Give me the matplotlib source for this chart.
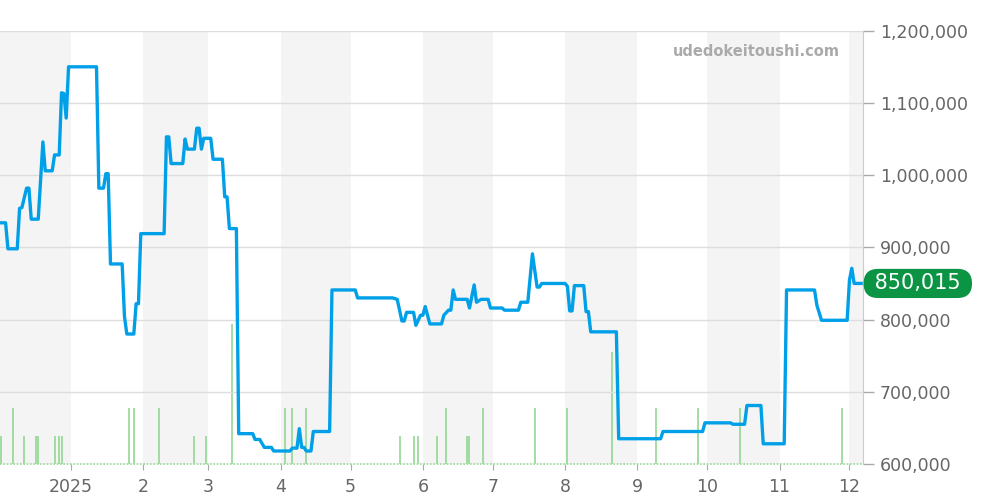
import numpy as np
import pandas as pd
import matplotlib
matplotlib.use('Agg')
import matplotlib.pyplot as plt
import matplotlib.dates as mdates
from matplotlib.transforms import blended_transform_factory

base = pd.Timestamp('2025-01-01')

# price path: days counted from 2025-01-01, price in yen
price_day = [-30, -28, -27, -23, -22, -21, -19, -18, -17, -14,
             -12, -11, -8, -7, -5, -4, -3, -2, -1, 11,
             12, 14, 15, 16, 17, 22, 23, 24, 27, 28,
             29, 30, 40, 41, 42, 43, 48, 49, 50, 53,
             54, 55, 56, 57, 60, 61, 65, 66, 67, 68,
             71, 72, 78, 79, 81, 83, 86, 87, 94, 95,
             97, 98, 99, 100, 101, 103, 104, 111, 112, 122,
             123, 138, 140, 142, 143, 144, 147, 148, 150, 151,
             152, 154, 159, 160, 162, 163, 164, 165, 170, 171,
             173, 174, 176, 179, 180, 185, 186, 192, 193, 196,
             198, 200, 201, 202, 212, 213, 214, 215, 216, 220,
             221, 222, 223, 234, 235, 253, 254, 271, 272, 283,
             284, 289, 290, 296, 297, 306, 307, 319, 320, 322,
             333, 334, 335, 336, 339]
price_val = [934000, 934000, 898000, 898000, 954000, 955000, 982000, 982000, 939000, 939000,
             1046000, 1006000, 1006000, 1028000, 1028000, 1114000, 1113000, 1079000, 1150000, 1150000,
             982000, 982000, 1002000, 1002000, 877000, 877000, 804000, 780000, 780000, 822000,
             822000, 919000, 919000, 1053000, 1053000, 1016000, 1016000, 1050000, 1036000, 1036000,
             1065000, 1065000, 1036000, 1051000, 1051000, 1022000, 1022000, 970000, 970000, 926000,
             926000, 642000, 642000, 634000, 634000, 623000, 623000, 618000, 618000, 622000,
             622000, 649000, 623000, 623000, 618000, 618000, 645000, 645000, 841000, 841000,
             830000, 830000, 828000, 798000, 798000, 810000, 810000, 792000, 806000, 806000,
             818000, 794000, 794000, 806000, 813000, 813000, 841000, 828000, 828000, 816000,
             848000, 824000, 828000, 828000, 816000, 816000, 813000, 813000, 824000, 824000,
             891000, 845000, 845000, 850000, 850000, 846000, 812000, 812000, 847000, 847000,
             811000, 811000, 783000, 783000, 635000, 635000, 645000, 645000, 657000, 657000,
             655000, 655000, 681000, 681000, 628000, 628000, 841000, 841000, 820000, 799000,
             799000, 855000, 871000, 850015, 850015]

# trade counts (green spikes)
vol_day = [-30, -25, -20, -15, -14, -7, -5, -4, 25, 27, 38, 53, 58, 69,
           92, 95, 101, 141, 147, 149, 157, 161, 170, 171, 177,
           199, 213, 232, 251, 269, 287, 331]
vol_cnt = [1, 2, 1, 1, 1, 1, 1, 1, 2, 2, 2, 1, 1, 5,
           2, 2, 2, 1, 1, 1, 1, 2, 1, 1, 2,
           2, 2, 4, 2, 2, 2, 2]

month_ticks = pd.date_range('2025-01-01', '2025-12-01', freq='MS')
month_labels = ['2025', '2', '3', '4', '5', '6', '7', '8', '9', '10', '11', '12']
last_price = 850015

t0 = mdates.date2num(base)
px = t0 + np.array(price_day)
vx = t0 + np.array(vol_day)

fig = plt.figure(figsize=(10, 5), dpi=100)
ax_v = fig.add_axes([0.0, 0.072, 0.863, 0.8666])
ax_p = ax_v.twinx()

# alternating month shading
for a, b in [('2024-11-01', '2025-01-01'), ('2025-02-01', '2025-03-01'),
             ('2025-04-01', '2025-05-01'), ('2025-06-01', '2025-07-01'),
             ('2025-08-01', '2025-09-01'), ('2025-10-01', '2025-11-01'),
             ('2025-12-01', '2026-01-01')]:
    ax_v.axvspan(mdates.date2num(pd.Timestamp(a)), mdates.date2num(pd.Timestamp(b)),
                 color='#f4f4f4', lw=0, zorder=0)

ax_v.vlines(vx, 0, vol_cnt, color='#93d893', lw=1.2, zorder=2)
ax_v.axhline(0, color='#93d893', lw=1.2, ls=(0, (1, 1)), clip_on=False, zorder=2)
ax_v.set_ylim(0, 15.46)
ax_v.set_yticks([])
ax_v.set_xlim(t0 - 30.4, t0 + 339.8)
for s in ax_v.spines.values():
    s.set_visible(False)

ax_p.plot(px, price_val, color='#00a0e9', lw=2.4, zorder=5, solid_joinstyle='round')
ax_p.set_ylim(600000, 1200000)
ax_p.set_yticks(np.arange(600000, 1200001, 100000))
ax_p.set_yticklabels([f'{v:,}' for v in range(600000, 1200001, 100000)])
ax_p.yaxis.grid(True, color='#dddddd', lw=1)
ax_p.set_axisbelow(True)
ax_p.tick_params(axis='y', right=True, length=8, width=1, color='#aaaaaa',
                 labelcolor='#666666', labelsize=12.5, pad=4)
for k in ['left', 'top', 'bottom']:
    ax_p.spines[k].set_visible(False)
ax_p.spines['right'].set_color('#cccccc')

ax_v.set_xticks(mdates.date2num(month_ticks))
ax_v.set_xticklabels(month_labels)
ax_v.tick_params(axis='x', length=4, color='#aaaaaa', labelcolor='#666666',
                 labelsize=12.5, pad=6)

# watermark
ax_p.text(0.973, 0.951, 'udedokeitoushi.com', transform=ax_p.transAxes,
          ha='right', va='center', fontsize=10.5, fontweight='bold', color='#aaaaaa')

# last price badge
tr = blended_transform_factory(ax_p.transAxes, ax_p.transData)
ax_p.text(1.006, last_price, f' {last_price:,} ', transform=tr, ha='left', va='center',
          fontsize=15, color='white', zorder=10, clip_on=False,
          bbox=dict(boxstyle='round,pad=0.22,rounding_size=0.7', fc='#0b9444', ec='none'))

fig.savefig('out.png', dpi=100)
